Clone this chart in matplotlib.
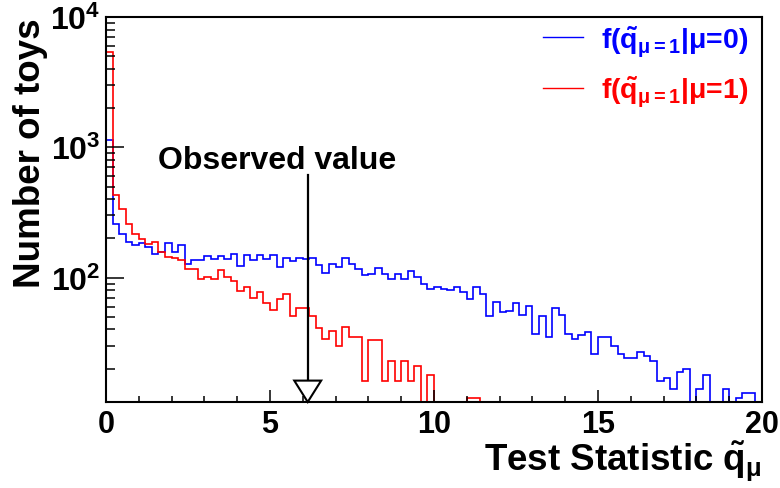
import numpy as np
import matplotlib
matplotlib.use("Agg")
import matplotlib.pyplot as plt
from matplotlib.lines import Line2D
from matplotlib.patches import Polygon
from matplotlib.ticker import LogLocator, NullFormatter, MultipleLocator

plt.rcParams['font.family'] = ['Liberation Sans', 'DejaVu Sans']
plt.rcParams['font.weight'] = 'bold'
plt.rcParams['mathtext.fontset'] = 'custom'
plt.rcParams['mathtext.rm'] = 'Liberation Sans:bold'
plt.rcParams['mathtext.it'] = 'Liberation Sans:bold'
plt.rcParams['mathtext.bf'] = 'Liberation Sans:bold'
plt.rcParams['mathtext.sf'] = 'Liberation Sans:bold'

# 100 bins of width 0.2 between 0 and 20
bin_edges = np.linspace(0, 20, 101)

# toys for mu=0 (blue)
counts_mu0 = [1130, 260, 218, 188, 177, 185, 172, 151, 157, 185,
              157, 177, 128, 137, 137, 147, 139, 147, 139, 153,
              123, 148, 137, 148, 139, 148, 121, 142, 134, 141,
              140, 142, 126, 109, 128, 121, 142, 128, 117, 105,
              107, 119, 107, 97, 107, 97, 112, 101, 90, 82,
              85, 82, 80, 85, 78, 68, 84, 75, 51, 65,
              54, 55, 64, 52, 61, 37, 51, 35, 58, 52,
              37, 34, 36, 38, 26, 35, 35, 30, 26, 24,
              24, 27, 25, 23, 16, 17, 14, 19, 20, 0,
              14, 18, 0, 0, 14, 0, 12, 13, 13, 0]

# toys for mu=1 (red)
counts_mu1 = [5400, 429, 335, 260, 218, 197, 182, 188, 157, 144,
              141, 137, 117, 117, 97, 101, 97, 114, 101, 95,
              79, 84, 70, 77, 64, 56, 69, 75, 51, 58,
              58, 51, 41, 34, 39, 30, 42, 35, 35, 16,
              33, 33, 16, 23, 16, 23, 16, 21, 0, 18,
              0, 0, 0, 0, 0, 12, 12, 0, 0, 0,
              0, 0, 0, 0, 0, 0, 0, 0, 0, 0,
              0, 0, 0, 0, 0, 0, 0, 0, 0, 0,
              0, 0, 0, 0, 0, 0, 0, 0, 0, 0,
              0, 0, 0, 0, 0, 0, 0, 0, 0, 0]

observed = 6.15
labels = [r'f($\tilde{q}_{\mu=1}$|$\mu$=0)', r'f($\tilde{q}_{\mu=1}$|$\mu$=1)']

fig = plt.figure(figsize=(7.8, 4.89), dpi=100)
ax = fig.add_axes([106/780, 1 - 403/489, 656/780, 385/489])

ax.stairs(counts_mu0, bin_edges, color='blue', lw=1.2, baseline=None)
ax.stairs(counts_mu1, bin_edges, color='red', lw=1.2, baseline=None)

ax.set_yscale('log', nonpositive='clip')
ax.set_xlim(0, 20)
ax.set_ylim(11.1, 1e4)

# observed value arrow
ax.plot([observed, observed], [618, 16.2], color='black', lw=1.6)
tri = Polygon([[observed - 0.41, 16.2], [observed + 0.41, 16.2], [observed, 11.1]],
              closed=True, facecolor='white', edgecolor='black', lw=1.5,
              zorder=5, clip_on=False)
ax.add_patch(tri)
ax.text(5.23, 792, 'Observed value', ha='center', va='center', fontsize=23, fontweight='bold')

# axes style, ROOT-like
ax.xaxis.set_major_locator(MultipleLocator(5))
ax.xaxis.set_minor_locator(MultipleLocator(1))
ax.yaxis.set_major_locator(LogLocator(base=10))
ax.yaxis.set_minor_locator(LogLocator(base=10, subs=np.arange(2, 10)))
ax.yaxis.set_minor_formatter(NullFormatter())
ax.tick_params(which='both', direction='in', top=False, right=False, width=1.1)
ax.tick_params(axis='x', which='major', length=8.5, labelsize=22, pad=5)
ax.tick_params(axis='x', which='minor', length=4.3)
ax.tick_params(axis='y', which='major', length=13, labelsize=23, pad=4)
ax.tick_params(axis='y', which='minor', length=6.5)
for sp in ax.spines.values():
    sp.set_linewidth(1.5)

ax.set_xlabel(r'Test Statistic $\tilde{q}_{\mu}$', fontsize=26.5, fontweight='bold', loc='right')
ax.set_ylabel('Number of toys', fontsize=26.5, fontweight='bold', loc='top')
ax.xaxis.set_label_coords(1.0, -0.095)
ax.yaxis.set_label_coords(-0.088, 1.0)

handles = [Line2D([], [], color='blue', lw=1), Line2D([], [], color='red', lw=1)]
ax.legend(handles, labels, loc='upper left', bbox_to_anchor=(543/780, 1 - 24/489),
          bbox_transform=fig.transFigure, frameon=False, fontsize=20.5,
          handlelength=1.4, handletextpad=0.65, labelspacing=0.55, borderpad=0,
          borderaxespad=0, labelcolor='linecolor')

fig.savefig('out.png', dpi=100)
